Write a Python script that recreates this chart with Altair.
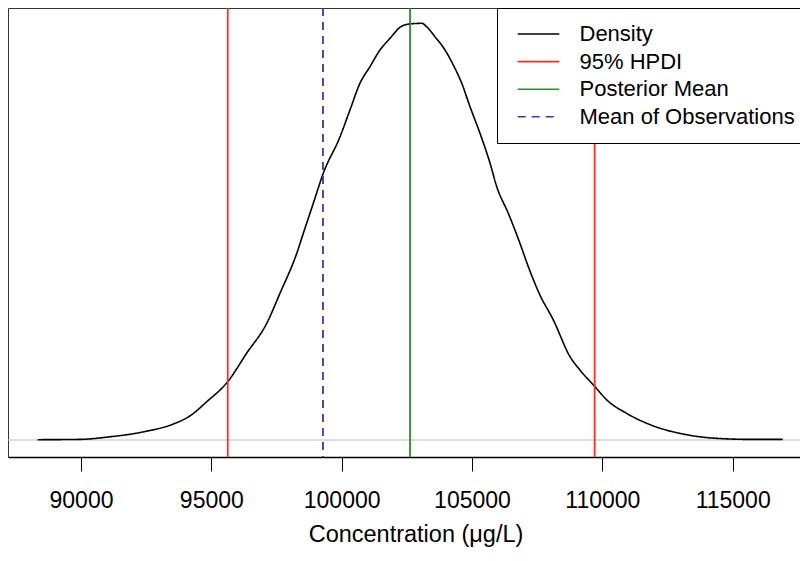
import altair as alt
import pandas as pd

# Density curve (x = concentration, y = density in 1e-5 units)
dens_x = [88339, 89962, 90986, 92390, 93541, 94182, 94822, 95628, 96357, 97124,
          97634, 98275, 98528, 98912, 99296, 99936, 100320, 100703, 101087, 101471,
          101854, 102303, 102622, 103071, 103263, 103581, 103965, 104283, 104606, 104924,
          105308, 105692, 105949, 106393, 106842, 107160, 107609, 108120, 108760, 109143,
          109719, 110168, 110935, 111956, 113107, 114258, 115664, 116920]
dens_y = [0.01, 0.02, 0.09, 0.26, 0.51, 0.77, 1.22, 1.86, 2.77, 3.72,
          4.68, 5.95, 6.59, 7.55, 8.51, 9.67, 10.53, 11.38, 11.91, 12.44,
          12.81, 13.20, 13.27, 13.29, 13.18, 12.86, 12.44, 11.96, 11.38, 10.63,
          9.78, 8.83, 8.08, 7.23, 6.27, 5.53, 4.62, 3.83, 2.66, 2.23,
          1.70, 1.28, 0.85, 0.45, 0.19, 0.06, 0.02, 0.02]

# Vertical reference lines
vline_x = [95628, 109705, 102622, 99283]
vline_series = ["95% HPDI", "95% HPDI", "Posterior Mean", "Mean of Observations"]

series_order = ["Density", "95% HPDI", "Posterior Mean", "Mean of Observations"]
series_colors = ["black", "#ff2a2a", "#2e8b2e", "#3f36a0"]
series_dash = [[1, 0], [1, 0], [1, 0], [8, 6]]

x_ticks = [90000, 95000, 100000, 105000, 110000, 115000]

dens_df = pd.DataFrame({"x": dens_x, "y": dens_y, "series": "Density"})
vl_df = pd.DataFrame({"x": vline_x, "series": vline_series})
zero_df = pd.DataFrame({"y": [0]})

FONT = "Liberation Sans"
xscale = alt.Scale(domain=[87199, 117584], nice=False, zero=False)
yscale = alt.Scale(domain=[-0.542, 13.778], nice=False, zero=False)

leg = alt.Legend(
    title=None, orient="none", legendX=489, legendY=0,
    symbolType="stroke", symbolSize=1730, symbolStrokeWidth=1.6,
    clipHeight=22, rowPadding=5.6, padding=15, symbolOffset=4.5, labelOffset=19,
    labelFontSize=22, labelFont=FONT, labelColor="black", labelLimit=400,
    strokeColor="black", fillColor="white",
)
color = alt.Color("series:N", scale=alt.Scale(domain=series_order, range=series_colors), legend=leg)
dash = alt.StrokeDash("series:N", scale=alt.Scale(domain=series_order, range=series_dash), legend=leg)

zero_line = alt.Chart(zero_df).mark_rule(color="#bebebe", strokeWidth=1).encode(
    y=alt.Y("y:Q", scale=yscale, axis=None)
)

density = alt.Chart(dens_df).mark_line(strokeWidth=1.6, interpolate="monotone").encode(
    x=alt.X("x:Q", scale=xscale, axis=alt.Axis(
        values=x_ticks, format="d", grid=False, labelFlush=False, labelOverlap=False,
        tickSize=14, tickColor="black", tickWidth=1,
        labelFontSize=23, labelFont=FONT, labelColor="black", labelPadding=18,
        domainColor="black", domainWidth=1.5,
        title="Concentration (\u03bcg/L)", titleFontSize=23.5, titleFont=FONT,
        titleFontWeight="normal", titleColor="black",
        titleX=407.5, titleY=84, titleAlign="center", titleBaseline="alphabetic",
    )),
    y=alt.Y("y:Q", scale=yscale, axis=alt.Axis(
        labels=False, ticks=False, title=None, grid=False,
        domainColor="#333333", domainWidth=1,
    )),
    color=color,
    strokeDash=dash,
)

vlines = alt.Chart(vl_df).mark_rule(strokeWidth=1.8).encode(
    x=alt.X("x:Q", scale=xscale, axis=alt.Axis(
        orient="top", labels=False, ticks=False, title=None, grid=False,
        domainColor="#333333", domainWidth=1,
    )),
    color=color,
    strokeDash=dash,
)

chart = alt.layer(zero_line, density, vlines).resolve_axis(
    x="independent", y="independent"
).properties(
    width=792, height=449,
    padding={"left": 0, "top": 0, "right": 0, "bottom": 90},
    autosize=alt.AutoSizeParams(type="none"),
).configure_view(stroke=None).configure(font=FONT)

chart.save("out.html", embed_options={"renderer": "svg", "actions": False})
